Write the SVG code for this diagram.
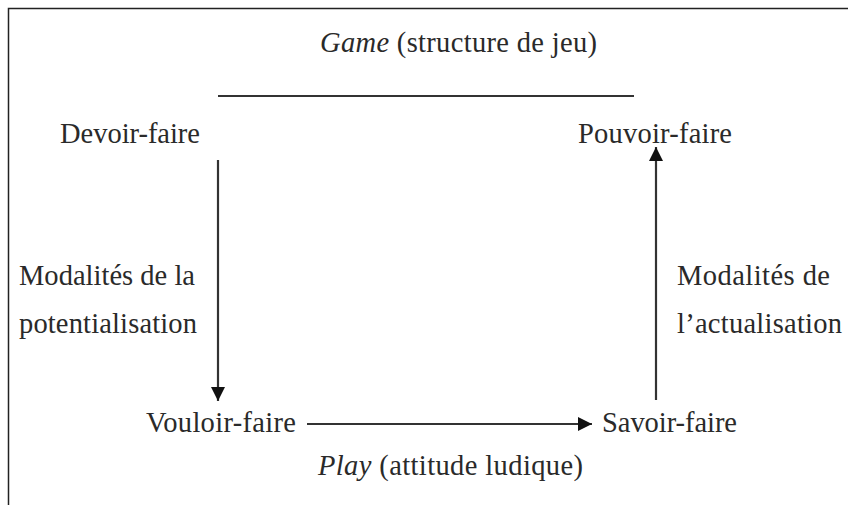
<svg xmlns="http://www.w3.org/2000/svg" width="848" height="505" viewBox="0 0 848 505">
<defs>
<style>
text{font-family:"Liberation Serif","Times New Roman",serif;font-size:28.5px;fill:#2a2a2a}
.it{font-style:italic}
.ln{stroke:#333;stroke-width:2.2;fill:none}
</style>
<marker id="ah" viewBox="0 0 10 10" refX="10" refY="5" markerWidth="18" markerHeight="14" markerUnits="userSpaceOnUse" orient="auto">
<path d="M0,0 L10,5 L0,10 Z" fill="#111"/>
</marker>
</defs>
<rect width="848" height="505" fill="#fff"/>
<path d="M8.5,505 V8.5 H848" stroke="#222" stroke-width="1.5" fill="none"/>
<g id="title-game"><text x="320" y="52" textLength="277"><tspan class="it">Game</tspan> (structure de jeu)</text></g>
<g id="title-play"><text x="318" y="475" textLength="265"><tspan class="it">Play</tspan> (attitude ludique)</text></g>
<g id="devoir-faire"><text x="60" y="143" textLength="140">Devoir-faire</text></g>
<g id="pouvoir-faire"><text x="578" y="143" textLength="154">Pouvoir-faire</text></g>
<g id="vouloir-faire"><text x="146" y="432" textLength="150">Vouloir-faire</text></g>
<g id="savoir-faire"><text x="602" y="432" textLength="135">Savoir-faire</text></g>
<g id="label-potentialisation"><text x="19" y="285" textLength="176">Modalités de la</text><text x="19" y="333" textLength="178">potentialisation</text></g>
<g id="label-actualisation"><text x="677" y="285" textLength="153">Modalités de</text><text x="677" y="333" textLength="165">l’actualisation</text></g>
<g id="connectors">
<line class="ln" x1="218" y1="96" x2="634" y2="96" stroke="#666" stroke-width="3"/>
<line class="ln" x1="218" y1="160" x2="218" y2="401" marker-end="url(#ah)"/>
<line class="ln" x1="307" y1="424" x2="592" y2="424" marker-end="url(#ah)"/>
<line class="ln" x1="656" y1="400" x2="656" y2="147" marker-end="url(#ah)"/>
</g>
</svg>
